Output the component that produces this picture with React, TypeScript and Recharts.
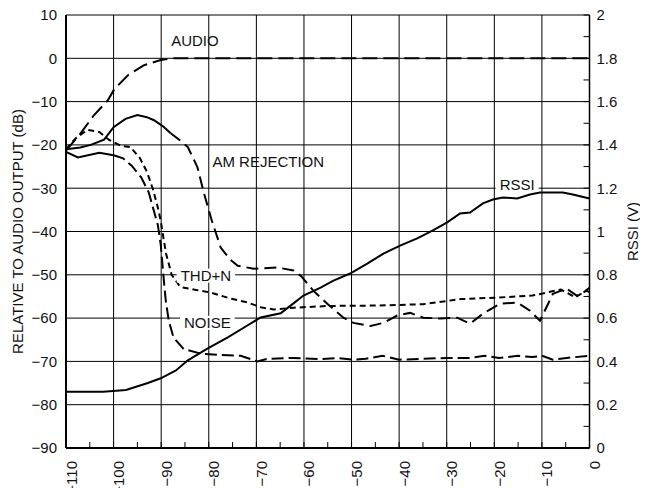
import React from 'react';
import { LineChart, Line, XAxis, YAxis, CartesianGrid, ReferenceLine, ReferenceDot } from 'recharts';

// ---- axis ticks ----
const xTicks = [-110, -105, -100, -95, -90, -85, -80, -75, -70, -65, -60, -55, -50, -45, -40, -35, -30, -25, -20, -15, -10, -5, 0];
const xMajorTicks = [-110, -100, -90, -80, -70, -60, -50, -40, -30, -20, -10, 0];
const dbTicks = [-90, -80, -70, -60, -50, -40, -30, -20, -10, 0, 10];
const vTicks = [0, 0.1, 0.2, 0.3, 0.4, 0.5, 0.6, 0.7, 0.8, 0.9, 1, 1.1, 1.2, 1.3, 1.4, 1.5, 1.6, 1.7, 1.8, 1.9, 2];

// ---- series (x = input level, y = dB or V) ----
const audio: [number, number][] = [
  [-110, -21.3], [-106.9, -17.3], [-104.1, -13.1], [-101.2, -9.7], [-99.9, -7.2], [-97, -3.9],
  [-93.6, -1.6], [-90.1, -0.4], [-87.4, 0], [-80, 0], [-60, 0], [-40, 0], [-20, 0], [0, 0],
];
const amRejSolid: [number, number][] = [
  [-110, -21], [-107, -20.6], [-104.8, -20], [-102, -18.8], [-100, -15.9], [-97.5, -14], [-95, -13.1],
  [-93, -13.6], [-91.5, -14.3], [-89.5, -15.8], [-88, -17.3],
];
const amRejDashed: [number, number][] = [
  [-88, -17.3], [-86, -19], [-84.4, -20.5], [-82.4, -25.1], [-81, -31.2], [-79.5, -37], [-77.5, -43.7],
  [-75.5, -46.5], [-73.9, -47.9], [-70.6, -48.6], [-65.6, -48.3], [-62.2, -49], [-60.5, -50.4],
  [-58, -53.7], [-55.1, -56.7], [-51.7, -59.9], [-49.6, -61.1], [-46, -61.8], [-43.3, -61.1],
  [-40.4, -59.4], [-37.7, -58.8], [-34.9, -59.9], [-31.4, -60.1], [-27.8, -59.9], [-25.1, -61.3],
  [-22.4, -59], [-18.8, -56.7], [-15.2, -56.4], [-12.5, -58.3], [-10.4, -60.6], [-7.7, -54.4],
  [-4.8, -53.2], [-2.7, -54.8], [-0.6, -53.7], [0, -54],
];
const thdN: [number, number][] = [
  [-110, -21], [-108, -18.5], [-105.5, -16.5], [-103, -17], [-101, -18.8], [-98.5, -20.2],
  [-96.5, -20.5], [-94.5, -23], [-93, -26.2], [-91.8, -30], [-90.8, -34], [-90.1, -37.5],
  [-89.6, -41], [-89, -45], [-87.8, -50], [-86, -52.8], [-83.2, -53.4], [-79.6, -54.1],
  [-75.4, -55.5], [-71.8, -56.4], [-69.1, -57.5], [-66.4, -58], [-62.2, -57.6], [-55, -57.2],
  [-45, -57.1], [-35, -56.8], [-27, -55.6], [-20, -55.3], [-12, -54.8], [-6, -53.4],
  [-3, -55.2], [-1.5, -54.2], [0, -53],
];
const noiseSolid: [number, number][] = [
  [-110, -21.6], [-107.5, -22.9], [-103, -21.8], [-100, -22.4],
];
const noiseDashed: [number, number][] = [
  [-100, -22.4], [-98, -23.1], [-96.2, -24.8], [-94.2, -27.5], [-92.6, -31], [-91.6, -35],
  [-90.7, -38.5], [-90.1, -43], [-89.7, -48], [-89.3, -53], [-89, -56.3], [-88.4, -60.6],
  [-87.4, -64.5], [-85.3, -67.1], [-81.7, -68.2], [-77.5, -68.5], [-73.3, -68.7], [-69.8, -70],
  [-67.6, -69.4], [-62.2, -69.2], [-56.5, -69.5], [-53, -69.2], [-49.6, -69.6], [-47, -69.4],
  [-43.5, -68.7], [-40, -69.6], [-35, -69.4], [-30, -69.2], [-25, -69.2], [-22, -68.7],
  [-19, -69.2], [-15, -68.7], [-12, -69], [-10, -68.7], [-7.7, -69.6], [-4.8, -69.2], [0, -68.7],
];
const rssi: [number, number][] = [
  [-110, 0.26], [-102.2, 0.26], [-97.4, 0.268], [-92.8, 0.3], [-90.1, 0.322], [-86.9, 0.358],
  [-84.4, 0.405], [-80.2, 0.46], [-76, 0.511], [-71.8, 0.567], [-69.1, 0.603], [-64.9, 0.622],
  [-62.2, 0.668], [-60.1, 0.704], [-56.5, 0.741], [-53.8, 0.773], [-50.3, 0.806], [-46.7, 0.852],
  [-43.3, 0.898], [-39.8, 0.935], [-36.2, 0.968], [-32.9, 1.005], [-29.9, 1.042], [-27.2, 1.083],
  [-25.1, 1.088], [-22.4, 1.13], [-20.3, 1.148], [-18.2, 1.157], [-15.2, 1.153], [-12.5, 1.171],
  [-10.4, 1.18], [-5.6, 1.18], [-3.5, 1.171], [0, 1.152],
];

// ---- annotations (data coordinates on the dB axis) ----
const annotations = [
  { text: 'AUDIO', x: -82.9, y: 4.2, bg: false },
  { text: 'AM REJECTION', x: -67.5, y: -23.9, bg: false },
  { text: 'RSSI', x: -15.2, y: -29.2, bg: true },
  { text: 'THD+N', x: -80.6, y: -50.2, bg: true },
  { text: 'NOISE', x: -80.3, y: -61.1, bg: true },
];

const FONT = '"Liberation Sans", Arial, Helvetica, sans-serif';
const FS = 15;
const INK = '#111';

const pts = (a: [number, number][]) => a.map(([x, y]) => ({ x, y }));
const minus = (v: number) => (v < 0 ? '\u2212' + Math.abs(v) : String(v));

const charW: Record<string, number> = {
  A: 0.667, B: 0.667, C: 0.722, D: 0.722, E: 0.667, H: 0.722, I: 0.278, J: 0.5, M: 0.833,
  N: 0.722, O: 0.778, R: 0.722, S: 0.667, T: 0.611, U: 0.722, '+': 0.584, ' ': 0.278,
};
const textWidth = (t: string) => t.split('').reduce((s, c) => s + (charW[c] ?? 0.667), 0) * FS;

const XTick = (props: any) => {
  const { x, y, payload } = props;
  const v = payload.value as number;
  if (!xMajorTicks.includes(v)) return null;
  return (
    <text
      x={x}
      y={y}
      transform={`rotate(-90 ${x} ${y})`}
      textAnchor="end"
      dy={10.5}
      fontFamily={FONT}
      fontSize={FS}
      fill={INK}
    >
      {minus(v)}
    </text>
  );
};

const vLabel = (v: number) => {
  const r = Math.round(v * 10);
  if (r % 2 !== 0) return '';
  return String(r / 10);
};

const LeftTitle = (props: any) => {
  const vb = props.viewBox || { x: 0, y: 0, width: 0, height: 0 };
  const cx = vb.x + 9;
  const cy = vb.y + vb.height / 2;
  return (
    <text x={cx} y={cy} transform={`rotate(-90 ${cx} ${cy})`} textAnchor="middle"
      dominantBaseline="central" fontFamily={FONT} fontSize={FS} fill={INK}>
      RELATIVE TO AUDIO OUTPUT (dB)
    </text>
  );
};

const RightTitle = (props: any) => {
  const vb = props.viewBox || { x: 0, y: 0, width: 0, height: 0 };
  const cx = vb.x + 42.5;
  const cy = vb.y + vb.height / 2;
  return (
    <text x={cx} y={cy} transform={`rotate(-90 ${cx} ${cy})`} textAnchor="middle"
      dominantBaseline="central" fontFamily={FONT} fontSize={FS} fill={INK}>
      RSSI (V)
    </text>
  );
};

const makeAnnot = (text: string, bg: boolean) => (props: any) => {
  const { cx, cy } = props;
  if (cx == null || cy == null) return <g />;
  const w = textWidth(text);
  return (
    <g>
      {bg && <rect x={cx - w / 2 - 4} y={cy - 7} width={w + 8} height={14} fill="#fff" />}
      <text x={cx} y={cy} textAnchor="middle" dominantBaseline="central"
        fontFamily={FONT} fontSize={FS} fill={INK}>
        {text}
      </text>
    </g>
  );
};

export default function App() {
  const common = {
    xAxisId: 'x',
    dataKey: 'y',
    dot: false,
    activeDot: false,
    stroke: '#000',
    strokeWidth: 2,
    isAnimationActive: false,
    type: 'linear' as const,
  };
  return (
    <div style={{ width: 640, height: 480 }}>
      <LineChart width={640} height={480} margin={{ top: 7, right: 0, bottom: 0, left: 0 }}
        style={{ overflow: 'visible' }}>
        <CartesianGrid xAxisId="x" yAxisId="db" vertical={false} stroke="#000" strokeWidth={1} />
        <XAxis
          xAxisId="x"
          dataKey="x"
          type="number"
          domain={[-110, 0]}
          ticks={xTicks}
          interval={0}
          allowDataOverflow
          height={40}
          tickSize={-6}
          tickMargin={19}
          tick={<XTick />}
          tickLine={{ stroke: '#000', strokeWidth: 1 }}
          axisLine={{ stroke: '#000', strokeWidth: 2 }}
        />
        <YAxis
          yAxisId="db"
          orientation="left"
          type="number"
          domain={[-90, 10]}
          ticks={dbTicks}
          interval={0}
          allowDataOverflow
          width={58}
          tickSize={0}
          tickMargin={9}
          tickLine={false}
          tickFormatter={minus}
          tick={{ fontFamily: FONT, fontSize: FS, fill: INK }}
          axisLine={{ stroke: '#000', strokeWidth: 2 }}
          label={{ content: <LeftTitle /> }}
        />
        <YAxis
          yAxisId="v"
          orientation="right"
          type="number"
          domain={[0, 2]}
          ticks={vTicks}
          interval={0}
          allowDataOverflow
          width={58.5}
          tickSize={-6}
          tickMargin={13}
          tickFormatter={vLabel}
          tick={{ fontFamily: FONT, fontSize: FS, fill: INK, textAnchor: 'start' }}
          tickLine={{ stroke: '#000', strokeWidth: 1 }}
          axisLine={{ stroke: '#000', strokeWidth: 1.5 }}
          label={{ content: <RightTitle /> }}
        />
        {xMajorTicks.map((v) => (
          <ReferenceLine key={v} xAxisId="x" yAxisId="db" x={v} stroke="#000" strokeWidth={1} />
        ))}

        <Line {...common} yAxisId="v" data={pts(rssi)} />
        <Line {...common} yAxisId="db" data={pts(audio)} strokeDasharray="15 6" />
        <Line {...common} yAxisId="db" data={pts(amRejSolid)} />
        <Line {...common} yAxisId="db" data={pts(amRejDashed)} strokeDasharray="12 6" />
        <Line {...common} yAxisId="db" data={pts(thdN)} strokeDasharray="6 4" />
        <Line {...common} yAxisId="db" data={pts(noiseSolid)} />
        <Line {...common} yAxisId="db" data={pts(noiseDashed)} strokeDasharray="12 5" />

        {annotations.map((a) => (
          <ReferenceDot
            key={a.text}
            xAxisId="x"
            yAxisId="db"
            x={a.x}
            y={a.y}
            r={1}
            ifOverflow="visible"
            shape={makeAnnot(a.text, a.bg)}
          />
        ))}
      </LineChart>
    </div>
  );
}
